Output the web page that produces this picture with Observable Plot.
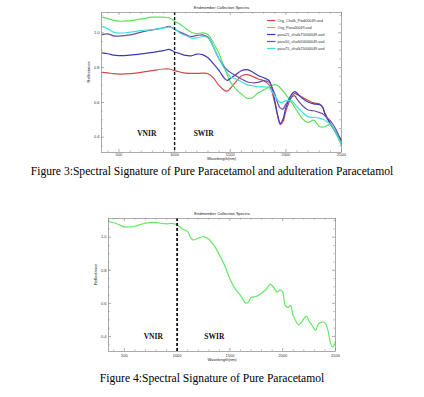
<!DOCTYPE html>
<html><head><meta charset="utf-8">
<script src="https://cdn.jsdelivr.net/npm/d3@7"></script>
<script src="https://cdn.jsdelivr.net/npm/@observablehq/plot@0.6"></script>
<style>
html,body{margin:0;padding:0;background:#fff;}
#root{position:relative;width:424px;height:397px;overflow:hidden;background:#fff;}
.chart{position:absolute;left:0;}
.cap{position:absolute;left:0;width:424px;text-align:center;font-family:"Liberation Serif","Times New Roman",serif;font-weight:normal;font-size:11.6px;line-height:13px;color:#000;white-space:nowrap;}
</style></head><body><div id="root"></div>
<script>
// ---------- data ----------
const chartTitle = "Endmember Collection Spectra";
const xLabel = "Wavelength(nm)";
const yLabel = "Reflectance";
const xTicks = [500, 1000, 1500, 2000, 2500];
const yTicks = [0.4, 0.6, 0.8, 1.0];
const captions = ["Figure 3:Spectral Signature of Pure Paracetamol and adulteration Paracetamol",
                  "Figure 4:Spectral Signature of Pure Paracetamol"];
const seriesNames = ["Org_Chalk_Pwd00049.asd", "Org_Para00049.asd", "para25_chalk75000049.asd",
                     "para50_chalk50000049.asd", "para75_chalk25000049.asd"];
const seriesColors = ["#d24b4b", "#5ee05e", "#3a3ab8", "#6e4e9e", "#3ee0e0"];
const regionLabels = ["VNIR", "SWIR"];

const wlTop = [350,400,450,500,600,700,800,900,950,1000,1050,1100,1150,1200,1250,1300,1350,1400,1450,1475,1500,1550,1600,1650,1700,1750,1800,1850,1900,1925,1950,1975,2000,2050,2080,2100,2150,2200,2250,2300,2330,2350,2400,2450,2500];
const chalk = [.773,.770,.765,.763,.765,.773,.783,.792,.792,.783,.775,.768,.767,.767,.768,.765,.740,.696,.668,.665,.680,.718,.752,.760,.750,.735,.725,.700,.600,.525,.472,.490,.550,.628,.652,.645,.630,.612,.597,.592,.575,.540,.478,.428,.380];
const para = [1.090,1.082,1.072,1.067,1.070,1.080,1.090,1.090,1.087,1.067,1.050,1.025,1.003,.995,1.000,.990,.940,.880,.795,.755,.718,.678,.648,.625,.627,.655,.672,.690,.702,.697,.683,.665,.645,.600,.572,.552,.505,.485,.498,.462,.458,.460,.473,.420,.352];
const para25 = [.885,.880,.872,.869,.872,.879,.888,.898,.905,.890,.880,.870,.868,.878,.875,.857,.822,.783,.737,.727,.738,.760,.782,.788,.775,.755,.742,.725,.612,.530,.480,.505,.570,.645,.662,.653,.622,.602,.592,.588,.572,.535,.476,.428,.383];
const para50 = [.990,.994,.983,.981,.988,1.004,1.017,1.029,1.038,1.021,1.004,.990,.979,.985,.988,.975,.917,.850,.802,.785,.773,.754,.735,.719,.713,.715,.725,.715,.648,.600,.567,.562,.590,.629,.638,.619,.581,.556,.552,.542,.535,.523,.494,.446,.369];
const para75 = [1.037,1.023,1.004,.998,1.004,1.013,1.019,1.027,1.033,1.023,.998,.985,.971,.971,.979,.971,.917,.850,.792,.768,.748,.735,.719,.702,.696,.690,.690,.683,.638,.615,.600,.603,.610,.610,.590,.575,.542,.517,.514,.510,.505,.498,.475,.427,.356];

const wlBottom = [350,400,450,500,550,600,700,800,850,900,950,1000,1050,1100,1125,1150,1200,1250,1300,1350,1400,1450,1500,1550,1600,1650,1675,1700,1750,1800,1850,1880,1900,1950,1975,2000,2025,2050,2075,2100,2150,2175,2200,2225,2250,2280,2310,2340,2370,2400,2425,2450,2475,2500];
const paraPure = [1.095,1.087,1.075,1.062,1.062,1.066,1.085,1.089,1.083,1.081,1.083,1.075,1.050,1.034,1.000,0.984,0.994,1.004,0.988,0.950,0.893,0.829,0.748,0.688,0.648,0.602,0.606,0.636,0.642,0.662,0.690,0.716,0.708,0.668,0.682,0.668,0.586,0.576,0.586,0.527,0.471,0.483,0.507,0.523,0.491,0.466,0.436,0.477,0.487,0.483,0.447,0.366,0.336,0.366];

// annotation anchors (wavelength, reflectance) for region labels
const regionTop = [[750, 0.423], [1261, 0.423]];
const regionBottom = [[774, 0.40], [1352, 0.40]];

// ---------- chart builder ----------
function spectraChart(cfg) {
  const {series, xDomain, yDomain, width, height, margin, regions, legend, dashW, tickDy, labelDy} = cfg;
  const [x0, x1] = xDomain, [y0, y1] = yDomain;
  const kx = (x1 - x0) / (width - margin.left - margin.right);
  const ky = (y1 - y0) / (height - margin.top - margin.bottom);
  const rows = series.flatMap(s => s.wl.map((w, i) => ({wl: w, r: s.values[i], name: s.name})));
  const xMinor = d3.range(400, 2500, 100).filter(v => !xTicks.includes(v));
  const yMinor = d3.range(0.35, 1.11, 0.05).map(v => +v.toFixed(2)).filter(v => !yTicks.some(t => Math.abs(t - v) < 1e-6));
  const tickStroke = "#777";
  const svg = Plot.plot({
    width, height,
    marginLeft: margin.left, marginRight: margin.right, marginTop: margin.top, marginBottom: margin.bottom,
    style: {fontFamily: "'Liberation Sans', Arial, sans-serif", background: "white", color: "#333"},
    x: {domain: xDomain, axis: null},
    y: {domain: yDomain, axis: null},
    color: {domain: series.map(s => s.name), range: series.map(s => s.color)},
    marks: [
      Plot.ruleX(xTicks, {x: d => d, y1: y0, y2: y0 + 3 * ky, stroke: tickStroke, strokeWidth: 0.6}),
      Plot.ruleX(xTicks, {x: d => d, y1: y1, y2: y1 - 3 * ky, stroke: tickStroke, strokeWidth: 0.6}),
      Plot.ruleX(xMinor, {x: d => d, y1: y0, y2: y0 + 1.6 * ky, stroke: tickStroke, strokeWidth: 0.5}),
      Plot.ruleX(xMinor, {x: d => d, y1: y1, y2: y1 - 1.6 * ky, stroke: tickStroke, strokeWidth: 0.5}),
      Plot.ruleY(yTicks, {y: d => d, x1: x0, x2: x0 + 3 * kx, stroke: tickStroke, strokeWidth: 0.6}),
      Plot.ruleY(yTicks, {y: d => d, x1: x1, x2: x1 - 3 * kx, stroke: tickStroke, strokeWidth: 0.6}),
      Plot.ruleY(yMinor, {y: d => d, x1: x0, x2: x0 + 1.6 * kx, stroke: tickStroke, strokeWidth: 0.5}),
      Plot.ruleY(yMinor, {y: d => d, x1: x1, x2: x1 - 1.6 * kx, stroke: tickStroke, strokeWidth: 0.5}),
      Plot.text(xTicks, {x: d => d, y: y0, dy: tickDy, text: d => String(d), fontSize: 4, fill: "#333"}),
      Plot.text(yTicks, {x: x0, y: d => d, dx: -2, textAnchor: "end", text: d => d.toFixed(1), fontSize: 4, fill: "#333"}),
      Plot.text([chartTitle], {frameAnchor: "top", dy: -6, text: d => d, fontSize: 4, fill: "#222"}),
      Plot.text([xLabel], {frameAnchor: "bottom", dy: labelDy, text: d => d, fontSize: 4, fill: "#222"}),
      Plot.text([yLabel], {frameAnchor: "left", dx: -12.5, rotate: -90, text: d => d, fontSize: 4, fill: "#222"}),
      Plot.line(rows, {x: "wl", y: "r", z: "name", stroke: "name", strokeWidth: 1.2, curve: "catmull-rom"}),
      Plot.ruleX([1000], {stroke: "#111", strokeWidth: dashW, strokeDasharray: "3,2"}),
      Plot.text(regions, {x: d => d[0], y: d => d[1], text: (d, i) => regionLabels[i], fontFamily: "'Liberation Serif', 'Times New Roman', serif", fontWeight: "bold", fontSize: 7.5, fill: "#111"}),
      Plot.frame({stroke: "#888", strokeWidth: 0.7})
    ]
  });
  const g = d3.select(svg).append("g").attr("text-anchor", "start");
  series.forEach((s, i) => {
    const y = legend.y0 + i * legend.step;
    g.append("line").attr("x1", legend.x1).attr("x2", legend.x2).attr("y1", y).attr("y2", y)
      .attr("stroke", s.color).attr("stroke-width", 1.2);
    g.append("text").attr("x", legend.tx).attr("y", y).attr("dy", "0.32em").attr("text-anchor", "start")
      .attr("font-size", 3.8).attr("fill", "#333").text(s.name);
  });
  return svg;
}

const root = document.getElementById("root");

const topSeries = [chalk, para, para25, para50, para75].map((v, i) => ({name: seriesNames[i], color: seriesColors[i], wl: wlTop, values: v}));
const svg1 = spectraChart({
  series: topSeries, xDomain: [343, 2500], yDomain: [0.312, 1.117],
  width: 424, height: 165, margin: {left: 101, right: 83, top: 12, bottom: 13},
  regions: regionTop, legend: {x1: 267, x2: 275.5, tx: 277.5, y0: 20.5, step: 7},
  dashW: 1.4, tickDy: 2.3, labelDy: 7.5
});
svg1.classList.add("chart"); svg1.style.top = "0px";
root.appendChild(svg1);

const bottomSeries = [{name: seriesNames[1], color: "#66e866", wl: wlBottom, values: paraPure}];
const svg2 = spectraChart({
  series: bottomSeries, xDomain: [350, 2500], yDomain: [0.309, 1.113],
  width: 424, height: 170, margin: {left: 108, right: 89, top: 23, bottom: 14},
  regions: regionBottom, legend: {x1: 263, x2: 272.5, tx: 274.5, y0: 224, step: 7},
  dashW: 1.8, tickDy: 4, labelDy: 9
});
svg2.classList.add("chart"); svg2.style.top = "195px";
root.appendChild(svg2);

captions.forEach((c, i) => {
  const d = document.createElement("div");
  d.className = "cap";
  d.style.top = (i === 0 ? 164.5 : 371.5) + "px";
  d.textContent = c;
  root.appendChild(d);
});
</script></body></html>
